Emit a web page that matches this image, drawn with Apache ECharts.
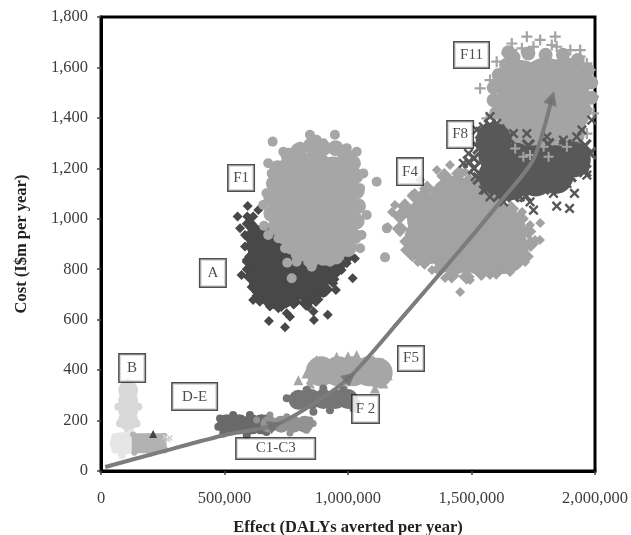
<!DOCTYPE html>
<html><head><meta charset="utf-8">
<style>html,body{margin:0;padding:0;background:#fff}#c{width:631px;height:535px;filter:blur(0.45px)}</style>
<script src="https://cdn.jsdelivr.net/npm/echarts@6/dist/echarts.min.js"></script>
</head><body><div id="c"></div>
<script>
// All x values in thousands of DALYs averted per year, y in I$m per year
const xTicks = ['0','500,000','1,000,000','1,500,000','2,000,000'];
const yTicks = ['0','200','400','600','800','1,000','1,200','1,400','1,600','1,800'];

const f1Core = [[860,1180],[940,1160],[780,1160],[860,1080],[950,1070],[770,1070],[860,980],[950,980],[790,990],[880,925],[945,935]];
const f1Ring = [[760,1250],[800,1270],[850,1290],[900,1280],[950,1280],[990,1250],[1020,1220],[1030,1170],[1035,1110],[1040,1050],[1035,990],[1025,930],[1000,880],[950,850],[900,845],[850,835],[800,860],[770,890],[740,930],[710,975],[690,1020],[690,1080],[700,1140],[715,1200]];
const f1Edge = [[846,1333],[947,1333],[695,1306],[806,1286],[873,1313],[900,1299],[995,1280],[1035,1266],[738,1266],[765,1260],[677,1220],[1062,1180],[691,1180],[1049,1121],[670,1101],[1076,1015],[657,1055],[1055,936],[1049,883],[698,956],[718,923],[745,883],[792,830],[853,810],[873,850],[927,830],[968,857],[1015,896],[1116,1147],[1157,962],[1150,847],[660,972],[677,936],[754,826],[772,764]];

const aCore = [[670,900],[680,820],[680,750],[760,750],[840,750],[760,830],[840,830],[885,810],[720,720]];
const aRing = [[600,980],[620,960],[600,930],[610,890],[610,850],[600,800],[605,770],[620,730],[640,695],[680,670],[730,660],[780,670],[830,665],[870,680],[910,720],[935,760],[950,790],[970,820],[1000,850],[600,830]];
const aEdge = [[594,1051],[553,1009],[592,1009],[563,962],[583,936],[616,1009],[637,1035],[583,890],[569,777],[590,837],[616,678],[643,671],[684,652],[718,645],[680,595],[745,570],[752,625],[765,612],[862,599],[918,619],[860,632],[839,652],[1019,764],[1028,843],[951,718],[940,744],[974,797],[995,824],[792,671],[900,705]];

const f4Core = [[1430,1070],[1530,1050],[1340,1000],[1440,980],[1540,980],[1620,950],[1330,920],[1430,880],[1530,880],[1630,880],[1560,1000]];
const f4Ring = [[1390,1170],[1450,1180],[1490,1150],[1320,1120],[1270,1090],[1230,1050],[1210,1010],[1210,960],[1240,910],[1260,860],[1310,830],[1370,800],[1420,775],[1480,770],[1540,785],[1600,790],[1670,820],[1720,850],[1740,900],[1730,950],[1700,1000],[1660,1040]];
const f4Edge = [[1162,967],[1190,1055],[1259,1094],[1292,1154],[1360,1193],[1413,1213],[1474,1186],[1178,1027],[1211,948],[1231,876],[1283,829],[1340,797],[1393,765],[1454,710],[1494,757],[1575,777],[1656,789],[1717,829],[1757,916],[1777,916],[1737,975],[1705,1027],[1778,983],[1240,1020],[1300,1100]];

const f11Core = [[1700,1530],[1800,1540],[1880,1540],[1700,1430],[1800,1430],[1880,1430],[1750,1350],[1860,1350]];
const f11Ring = [[1670,1640],[1730,1655],[1800,1650],[1870,1650],[1930,1630],[1970,1590],[1640,1610],[1610,1570],[1590,1520],[1590,1470],[1600,1420],[1640,1380],[1985,1540],[1985,1480],[1960,1430],[1650,1660]];
const f11Edge = [[1663,1695],[1663,1669],[1724,1722],[1839,1722],[1778,1709],[1751,1682],[1704,1676],[1825,1689],[1845,1682],[1940,1669],[1900,1669],[1535,1517],[1602,1623],[1575,1550],[1602,1471],[1562,1398],[1980,1590],[1967,1616],[1994,1484],[1643,1656],[1994,1418],[1953,1405],[1967,1338],[1872,1365],[1940,1643],[1616,1431]];
const f11Over = [[1677,1279],[1710,1246],[1737,1253],[1812,1246],[1792,1286],[1886,1286]];

const f8Core = [[1600,1250],[1680,1230],[1760,1220],[1840,1220],[1910,1235],[1600,1170],[1680,1160],[1760,1160],[1840,1170],[1660,1145],[1590,1310]];
const f8Ring = [[1540,1340],[1575,1370],[1610,1350],[1650,1320],[1530,1280],[1510,1240],[1510,1200],[1530,1160],[1560,1120],[1610,1090],[1670,1090],[1720,1090],[1790,1120],[1850,1130],[1900,1170],[1950,1210],[1980,1260],[1960,1290],[1880,1290],[1810,1295],[1730,1290],[1490,1225],[1960,1190]];
const f8Edge = [[1467,1220],[1488,1259],[1521,1352],[1575,1405],[1548,1365],[1670,1338],[1602,1378],[1515,1167],[1548,1114],[1575,1087],[1630,1067],[1697,1087],[1751,1034],[1737,1067],[1845,1050],[1897,1041],[1917,1101],[1832,1101],[1886,1140],[1967,1173],[1927,1193],[1872,1312],[1926,1325],[1987,1391],[1947,1352],[1805,1325],[1724,1338]];

const f5Core = [[890,395],[960,395],[1020,395],[1085,395],[1120,390]];
const f5Edge = [[873,440],[954,453],[1035,460],[1102,440],[1150,413],[1161,380],[1129,354],[832,387],[846,347],[900,426],[799,360],[1143,347],[1109,327],[981,347],[850,365],[850,410],[1000,455],[1140,430],[1160,400]];
const f2Core = [[800,282],[850,285],[900,285],[950,285],[1000,285]];
const f2Edge = [[752,288],[792,301],[832,321],[900,327],[981,321],[1035,268],[1022,248],[927,241],[860,235],[805,261]];
const c1Core = [[510,185],[560,185],[610,185],[650,185]];
const c1Edge = [[482,208],[475,175],[495,149],[535,222],[603,222],[670,155],[670,208],[590,142]];
const c3Core = [[680,185],[730,185],[780,185],[825,185]];
const c3Edge = [[846,202],[859,188],[832,162],[765,151],[752,215],[684,222],[630,202]];
const bCore = [[110,320],[110,280],[110,240],[110,200]];
const bEdge = [[110,354],[90,321],[130,321],[70,255],[151,255],[77,188],[144,188],[110,165]];
const b2Core = [[80,110],[100,110]];
const b2Edge = [[58,135],[58,85],[85,63],[120,150]];
const deCore = [[165,110],[225,110]];
const deEdge = [[130,145],[260,85],[255,140],[135,72],[200,68]];
const deTriangle = [[211,147]];
const deCross = [[279,131],[260,135],[270,125]];

const pathway = [[17,16],[250,78],[502,143],[705,182],[866,270],[1008,373],[1211,599],[1454,876],[1616,1067],[1749,1233],[1826,1479]];
const arrowHeads = [[705,182],[1008,373],[1826,1479]];
const arrowAngles = [-68,-50,-17];

const labelNames = ['F11','F1','A','B','D-E','C1-C3','F5','F 2','F8','F4'];
const labelPos = [[1500,1649],[567,1162],[453,785],[126,408],[379,295],[707,89],[1255,446],[1071,246],[1454,1334],[1251,1187]];
const labelW = [37,28,28,28,47,81,28,29,28,28];
const labelH = [28,28,30,30,29,23,27,30,29,29];

const PLUS = 'path://M4 0h2v4h4v2H6v4H4V6H0V4h4z';
const scale = a => a.map(p => [p[0]*1000, p[1]]);
const serif = '"Liberation Serif", "Times New Roman", serif';
const ink = '#3c3c3c';

function pts(name, data, symbol, color, size, rot){
  return {type:'scatter', name, data:scale(data), symbol, symbolSize:size, symbolRotate:rot||0,
    itemStyle:{color, opacity:1}, silent:true, animation:false};
}

const series = [
  pts('A', aCore, 'circle', '#484848', 40), pts('A', aRing, 'diamond', '#484848', 15), pts('A', aEdge, 'diamond', '#484848', 10),
  pts('F1', f1Core, 'circle', '#a6a6a6', 44), pts('F1', f1Ring, 'circle', '#a6a6a6', 16), pts('F1', f1Edge, 'circle', '#a6a6a6', 10),
  pts('F4', f4Core, 'circle', '#a2a2a2', 50), pts('F4', f4Ring, 'diamond', '#a2a2a2', 16), pts('F4', f4Edge, 'diamond', '#a2a2a2', 10),
  pts('F11', f11Core, 'circle', '#a4a4a4', 50), pts('F11', f11Ring, 'circle', '#a4a4a4', 14), pts('F11', f11Edge, PLUS, '#a4a4a4', 11),
  pts('F8', f8Core, 'circle', '#585858', 36), pts('F8', f8Ring, PLUS, '#585858', 16, 45), pts('F8', f8Edge, PLUS, '#585858', 12, 45),
  pts('F11', f11Over, PLUS, '#a4a4a4', 10),
  pts('B', bCore, 'circle', '#d8d8d8', 20), pts('B', bEdge, 'circle', '#d8d8d8', 8),
  pts('B2', b2Core, 'circle', '#e6e6e6', 22), pts('B2', b2Edge, 'circle', '#e6e6e6', 8),
  pts('D-E', deCore, 'rect', '#b2b2b2', [20,20]), pts('D-E', deEdge, 'circle', '#b2b2b2', 6),
  pts('D', deTriangle, 'triangle', '#444444', 8),
  pts('E', deCross, PLUS, '#d0d0d0', 7, 45),
  pts('F5', f5Core, 'circle', '#a6a6a6', 30), pts('F5', f5Edge, 'triangle', '#a6a6a6', 10),
  pts('F2', f2Core, 'circle', '#757575', 20), pts('F2', f2Edge, 'circle', '#757575', 8),
  pts('C1', c1Core, 'circle', '#696969', 20), pts('C1', c1Edge, 'circle', '#696969', 8),
  pts('C3', c3Core, 'circle', '#929292', 17), pts('C3', c3Edge, 'circle', '#929292', 7),
  {type:'line', data:scale(pathway), smooth:0.25, showSymbol:false, silent:true, animation:false,
    lineStyle:{color:'#7c7c7c', width:4}, z:5},
  {type:'scatter', data:scale(arrowHeads).map((p,i)=>({value:p, symbolRotate:arrowAngles[i]})), symbol:'triangle',
    symbolSize:14, itemStyle:{color:'#6f6f6f'}, silent:true, animation:false, z:6},
  {type:'scatter', z:10, symbolSize:0, silent:true, animation:false,
    data:scale(labelPos).map((p,i)=>({value:p, name:labelNames[i],
      label:{show:true, position:'inside', formatter:labelNames[i], width:labelW[i]-3, height:labelH[i]-3,
        lineHeight:labelH[i]-3, align:'center', verticalAlign:'middle', backgroundColor:'#fff',
        borderColor:'#222', borderWidth:1.5, color:'#222', fontFamily:serif, fontSize:15}})) }
];

const axisCommon = {
  axisLine:{show:true, onZero:false, lineStyle:{color:'#000', width:3}},
  axisTick:{show:true, length:4, lineStyle:{color:'#444', width:1.5}},
  splitLine:{show:false},
  nameLocation:'middle',
  nameTextStyle:{fontFamily:serif, fontWeight:'bold', fontSize:16.5, color:'#222'},
};
const chart = echarts.init(document.getElementById('c'), null, {renderer:'canvas'});
chart.setOption({
  animation:false,
  backgroundColor:'#fff',
  grid:{left:101, right:36, top:17, bottom:64, outerBoundsMode:'none', show:true, borderColor:'#000', borderWidth:3, backgroundColor:'transparent'},
  xAxis:Object.assign({}, axisCommon, {type:'value', min:0, max:2000000, interval:500000, name:'Effect (DALYs averted per year)', nameGap:48,
    axisLabel:{margin:19, fontFamily:serif, fontSize:16.5, color:ink, formatter:(v,i)=>xTicks[i]}}),
  yAxis:Object.assign({}, axisCommon, {type:'value', min:0, max:1800, interval:200, name:'Cost (I$m per year)', nameGap:71,
    axisLabel:{margin:13, fontFamily:serif, fontSize:16.5, color:ink, formatter:(v,i)=>yTicks[i]}}),
  series
});
</script></body></html>
